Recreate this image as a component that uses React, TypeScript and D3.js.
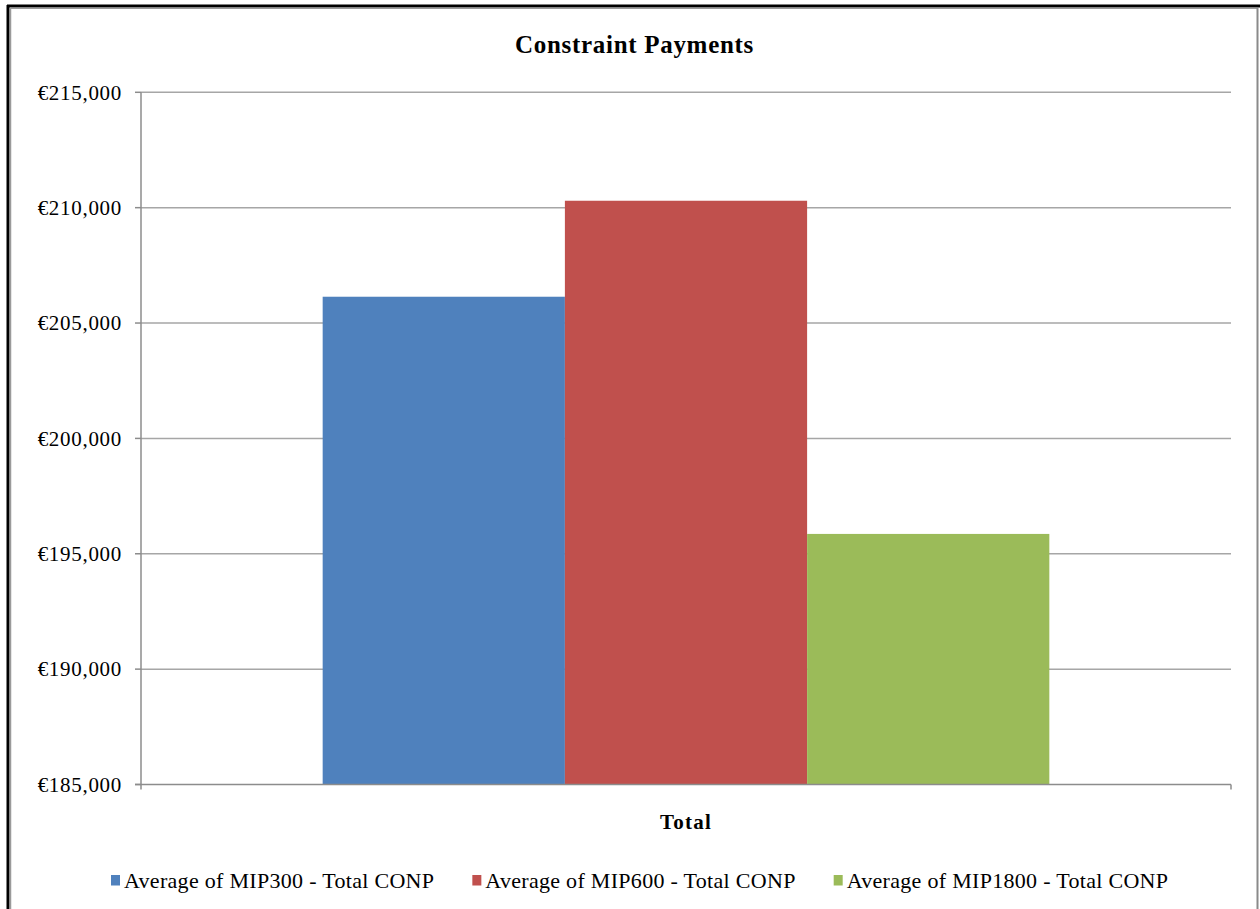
import React, { useEffect, useRef } from "react";
import * as d3 from "d3";

const categories = ["Total"];
const seriesNames = [
  "Average of MIP300 - Total CONP",
  "Average of MIP600 - Total CONP",
  "Average of MIP1800 - Total CONP",
];
const seriesValues = [206140, 210300, 195860];
const seriesColors = ["#4F81BD", "#C0504D", "#9BBB59"];
const yTicks = [185000, 190000, 195000, 200000, 205000, 210000, 215000];
const chartTitle = "Constraint Payments";

const W = 1260;
const H = 909;
const FONT = "'Liberation Serif', 'Times New Roman', serif";

export default function App() {
  const ref = useRef<SVGSVGElement>(null);

  useEffect(() => {
    const svg = d3.select(ref.current);
    svg.selectAll("*").remove();

    const left = 141;
    const right = 1231;
    const top = 92.3;
    const bottom = 784.5;

    // frame
    svg.append("rect").attr("x", 0).attr("y", 0).attr("width", W).attr("height", H).attr("fill", "#fff");
    svg.append("line").attr("x1", 8).attr("x2", 8).attr("y1", 5).attr("y2", H).attr("stroke", "#000").attr("stroke-width", 3);
    svg.append("line").attr("x1", 7).attr("x2", W).attr("y1", 6).attr("y2", 6).attr("stroke", "#000").attr("stroke-width", 3);
    svg.append("line").attr("x1", 10.5).attr("x2", 10.5).attr("y1", 7.5).attr("y2", H).attr("stroke", "#9a9a9a").attr("stroke-width", 1.5);
    svg.append("line").attr("x1", 10).attr("x2", 1257.5).attr("y1", 8.3).attr("y2", 8.3).attr("stroke", "#9a9a9a").attr("stroke-width", 1.2);
    svg.append("line").attr("x1", 1257.5).attr("x2", 1257.5).attr("y1", 8).attr("y2", H).attr("stroke", "#8a8a8a").attr("stroke-width", 2);

    const y = d3.scaleLinear().domain([185000, 215000]).range([bottom, top]);
    const x0 = d3.scaleBand<string>().domain(categories).range([left, right]).padding(0);
    const gapRatio = 1.5;
    const n = seriesNames.length;
    const groupW = (x0.bandwidth() * n) / (n + gapRatio);
    const x1 = d3
      .scaleBand<string>()
      .domain(seriesNames)
      .range([(x0.bandwidth() - groupW) / 2, (x0.bandwidth() + groupW) / 2])
      .padding(0);

    // gridlines
    svg
      .append("g")
      .selectAll("line")
      .data(yTicks.slice(1))
      .join("line")
      .attr("x1", left)
      .attr("x2", right)
      .attr("y1", (d) => y(d))
      .attr("y2", (d) => y(d))
      .attr("stroke", "#a6a6a6")
      .attr("stroke-width", 1.5);

    // bars
    const g = svg.append("g");
    categories.forEach((c) => {
      g.selectAll(null)
        .data(seriesNames.map((s, i) => ({ s, v: seriesValues[i], c: seriesColors[i] })))
        .join("rect")
        .attr("x", (d) => (x0(c) as number) + (x1(d.s) as number))
        .attr("width", x1.bandwidth())
        .attr("y", (d) => y(d.v))
        .attr("height", (d) => y(185000) - y(d.v))
        .attr("fill", (d) => d.c);
    });

    // axes
    svg.append("line").attr("x1", left).attr("x2", left).attr("y1", top).attr("y2", bottom + 5).attr("stroke", "#8c8c8c").attr("stroke-width", 1.5);
    svg.append("line").attr("x1", left - 6).attr("x2", right).attr("y1", bottom).attr("y2", bottom).attr("stroke", "#8c8c8c").attr("stroke-width", 1.5);
    svg.append("line").attr("x1", right).attr("x2", right).attr("y1", bottom).attr("y2", bottom + 5).attr("stroke", "#8c8c8c").attr("stroke-width", 1.5);
    svg
      .append("g")
      .selectAll("line")
      .data(yTicks)
      .join("line")
      .attr("x1", left - 6)
      .attr("x2", left)
      .attr("y1", (d) => y(d))
      .attr("y2", (d) => y(d))
      .attr("stroke", "#8c8c8c")
      .attr("stroke-width", 1.5);

    const fmt = d3.format(",");
    svg
      .append("g")
      .selectAll("text")
      .data(yTicks)
      .join("text")
      .attr("x", 122)
      .attr("y", (d) => y(d))
      .attr("dy", "0.35em")
      .attr("text-anchor", "end")
      .attr("font-family", FONT)
      .attr("font-size", 21)
      .attr("letter-spacing", 0.7)
      .attr("fill", "#000")
      .text((d) => "€" + fmt(d));

    // category label
    svg
      .append("g")
      .selectAll("text")
      .data(categories)
      .join("text")
      .attr("x", (d) => (x0(d) as number) + x0.bandwidth() / 2)
      .attr("y", 828.5)
      .attr("text-anchor", "middle")
      .attr("font-family", FONT)
      .attr("font-weight", "bold")
      .attr("font-size", 21)
      .attr("letter-spacing", 1.2)
      .attr("fill", "#000")
      .text((d) => d);

    // title
    svg
      .append("text")
      .attr("x", 634.5)
      .attr("y", 52.5)
      .attr("text-anchor", "middle")
      .attr("font-family", FONT)
      .attr("font-weight", "bold")
      .attr("font-size", 25)
      .attr("letter-spacing", 0.7)
      .attr("fill", "#000")
      .text(chartTitle);

    // legend
    const lg = svg.append("g");
    let cx = 111;
    seriesNames.forEach((s, i) => {
      lg.append("rect").attr("x", cx).attr("y", 875).attr("width", 9).attr("height", 10.5).attr("fill", seriesColors[i]);
      const t = lg
        .append("text")
        .attr("x", cx + 13)
        .attr("y", 888)
        .attr("font-family", FONT)
        .attr("font-size", 22)
        .attr("letter-spacing", 0.3)
        .attr("fill", "#000")
        .text(s);
      const w = (t.node() as SVGTextElement).getComputedTextLength();
      cx = cx + 13 + w + 38;
    });
  }, []);

  return (
    <svg
      ref={ref}
      width={W}
      height={H}
      style={{ position: "absolute", left: 0, top: 0, display: "block" }}
    />
  );
}
